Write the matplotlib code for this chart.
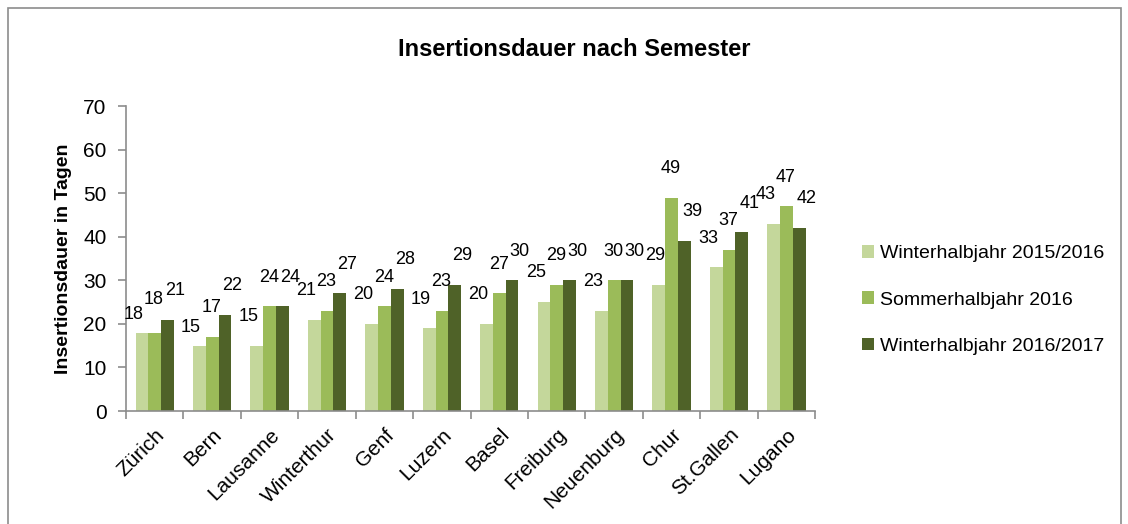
import numpy as np
import matplotlib
matplotlib.use("Agg")
import matplotlib.pyplot as plt
from matplotlib.patches import Rectangle

plt.rcParams['font.family'] = ['Liberation Sans', 'DejaVu Sans']

cities = ["Zürich", "Bern", "Lausanne", "Winterthur", "Genf", "Luzern", "Basel",
          "Freiburg", "Neuenburg", "Chur", "St.Gallen", "Lugano"]
winter_1516 = [18, 15, 15, 21, 20, 19, 20, 25, 23, 29, 33, 43]
sommer_16 = [18, 17, 24, 23, 24, 23, 27, 29, 30, 49, 37, 47]
winter_1617 = [21, 22, 24, 27, 28, 29, 30, 30, 30, 39, 41, 42]
series_names = ["Winterhalbjahr 2015/2016", "Sommerhalbjahr 2016", "Winterhalbjahr 2016/2017"]
colors = ["#C4D79B", "#9BBB59", "#4F6228"]

fig = plt.figure(figsize=(11.28, 5.24), dpi=100)
ax = fig.add_axes([0.1117, 0.2156, 0.611, 0.5821])

# outer chart border
fig.patches.append(Rectangle((8 / 1128, -0.05), 1113 / 1128, 1.05 - 8 / 524, transform=fig.transFigure,
                             fill=False, edgecolor="#8c8c8c", linewidth=1.2))

x = np.arange(len(cities))
width = 0.222
# label offsets in points (dx per series, dy above bar top)
label_dx = [-6, -0.5, 5.5]
label_dy = [21, 21, 21]
special_dy = {(0, 0): 13, (1, 0): 13, (0, 1): 24}
special_dx = {(9, 0): -2.5}

for i, (vals, name, col) in enumerate(zip([winter_1516, sommer_16, winter_1617], series_names, colors)):
    pos = x + (i - 1) * width
    ax.bar(pos, vals, width, color=col, label=name, edgecolor="none")
    for j, v in enumerate(vals):
        dy = special_dy.get((j, i), label_dy[i])
        dx = special_dx.get((j, i), label_dx[i])
        ax.annotate(str(v), (pos[j], v), xytext=(dx, dy), textcoords="offset points",
                    ha="center", va="center", fontsize=13, color="black")

ax.set_xlim(-0.5, len(cities) - 0.5)
ax.set_ylim(0, 70)
ax.set_yticks(range(0, 71, 10))
ax.tick_params(axis="y", labelsize=15, length=6, width=1.2, color="#8c8c8c", pad=8)

ax.set_xticks(x)
ax.set_xticklabels(cities, rotation=45, ha="right", rotation_mode="anchor", fontsize=15)
ax.tick_params(axis="x", length=0, pad=10)
ax.set_xticks(np.arange(-0.5, len(cities)), minor=True)
ax.tick_params(axis="x", which="minor", length=6, width=1.2, color="#8c8c8c")

for s in ["top", "right"]:
    ax.spines[s].set_visible(False)
for s in ["left", "bottom"]:
    ax.spines[s].set_color("#8c8c8c")
    ax.spines[s].set_linewidth(1.2)

ax.set_ylabel("Insertionsdauer in Tagen", fontsize=14, fontweight="bold", labelpad=8)
fig.text(574 / 1128, 1 - 50 / 524, "Insertionsdauer nach Semester", ha="center", va="center",
         fontsize=17, fontweight="bold")

fig.legend(loc="center left", bbox_to_anchor=(862 / 1128, 1 - 300 / 524), frameon=False,
           fontsize=14, handlelength=0.6, handleheight=0.6, handletextpad=0.3,
           labelspacing=1.5, borderpad=0, borderaxespad=0)

fig.savefig("out.png", dpi=100)
